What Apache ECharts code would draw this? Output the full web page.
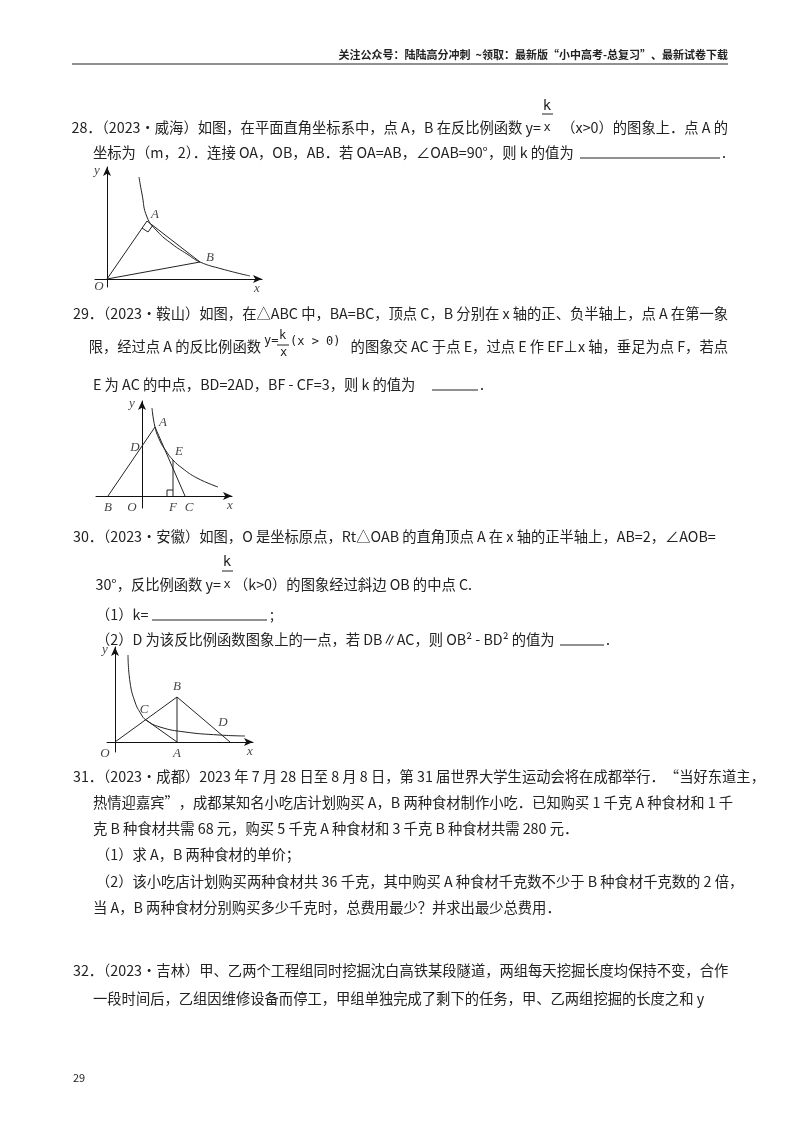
<!DOCTYPE html>
<html><head><meta charset="utf-8">
<script src="https://cdn.jsdelivr.net/npm/echarts@6/dist/echarts.min.js"></script>
<style>html,body{margin:0;background:#fff}#c{width:800px;height:1132px}</style>
</head><body><div id="c"></div>
<script>
// Figure 1 (q28) points, units relative to origin
const f1Curve=[[32,102],[35,85],[40,62],[50,48],[65,35],[80,25],[93,17],[115,10],[143,3]];
const f1Tri=[[0,0],[40,58],[93,17],[0,0]];
const f1Labels=[['A',[40,58],[8,-6]],['B',[93,17],[10,-4]],['O',[0,0],[-8,8]],['x',[150,0],[0,10]],['y',[0,108],[-10,0]]];
// Figure 2 (q29)
const f2Curve=[[10,88],[13,69],[18,55],[24,45],[31,36],[40,28],[55,18],[76,9]];
const f2Tri=[[-34,0],[13,69],[43,0]];
const f2EF=[[31,36],[31,0]];
const f2Labels=[['A',[13,69],[8,-4]],['D',[0,44],[-7,-4]],['E',[31,36],[6,-8]],['F',[31,0],[0,12]],['C',[43,0],[4,12]],['B',[-34,0],[0,12]],['O',[0,0],[-10,12]],['x',[86,0],[2,10]],['y',[0,92],[-10,0]]];
// Figure 3 (q30)
const f3Curve=[[13,87],[15,60],[20,40],[26,28],[31,22],[45,15],[70,10],[104,7],[130,6]];
const f3OBA=[[0,0],[62,45],[62,0]];
const f3AC=[[62,0],[31,22]];
const f3BD=[[62,45],[115,0]];
const f3Labels=[['B',[62,45],[0,-10]],['A',[62,0],[0,12]],['C',[31,22],[-2,-10]],['D',[104,9],[4,-10]],['O',[0,0],[-10,12]],['x',[133,0],[2,10]],['y',[0,92],[-10,0]]];

const ch=echarts.init(document.getElementById('c'));
const figs=[
 {o:[107,279],xr:[-12,155],yr:[-8,112]},
 {o:[142,496],xr:[-46,90],yr:[-12,95]},
 {o:[115,742],xr:[-8,138],yr:[-10,95]}
];
const grid=[],xAxis=[],yAxis=[];
figs.forEach((f,i)=>{
 grid.push({left:f.o[0]+f.xr[0],top:f.o[1]-f.yr[1],width:f.xr[1]-f.xr[0],height:f.yr[1]-f.yr[0]});
 const ax={type:'value',gridIndex:i,axisLine:{onZero:true,symbol:['none','arrow'],symbolSize:[6,9],lineStyle:{color:'#111',width:1}},axisTick:{show:false},axisLabel:{show:false},splitLine:{show:false}};
 xAxis.push(Object.assign({},ax,{min:f.xr[0],max:f.xr[1]}));
 yAxis.push(Object.assign({},ax,{min:f.yr[0],max:f.yr[1]}));
});
const L=(i,data,smooth)=>({type:'line',xAxisIndex:i,yAxisIndex:i,data,smooth:!!smooth,symbol:'none',lineStyle:{color:'#222',width:1},silent:true,animation:false});
function labs(i,arr){return {type:'scatter',xAxisIndex:i,yAxisIndex:i,symbolSize:0,animation:false,data:arr.map(a=>({value:a[1],label:{show:true,formatter:a[0],offset:a[2],fontFamily:'Liberation Serif',fontStyle:'italic',fontSize:13,color:'#111'}}))};}
const series=[
 L(0,f1Curve,true),L(0,f1Tri),labs(0,f1Labels),
 L(1,f2Curve,true),L(1,f2Tri),L(1,f2EF),L(1,[[25,0],[25,6],[31,6]]),labs(1,f2Labels),
 L(2,f3Curve,true),L(2,f3OBA),L(2,f3AC),L(2,f3BD),labs(2,f3Labels),
 L(0,[[35,51],[41,47],[46,54]])
];
const F='"Noto Sans CJK SC","Liberation Serif",serif';
const g=[];
function T(x,y,t,o){g.push({type:'text',x,y,style:Object.assign({text:t,fill:'#222',font:'14.3px '+F,textVerticalAlign:'middle'},o||{})});}
function R(x,y,t,o){T(x,y,t,Object.assign({textAlign:'right'},o||{}));}
function U(x1,x2,y){g.push({type:'line',shape:{x1,y1:y,x2,y2:y},style:{stroke:'#222',lineWidth:1}});}
R(728,55,'关注公众号：陆陆高分冲刺  ~领取：最新版“小中高考-总复习”、最新试卷下载',{font:'bold 11px '+F});
U(72,728,64);
// Q28
R(541,128,'28．（2023•威海）如图，在平面直角坐标系中，点 A，B 在反比例函数 y=');
T(547,106,'k',{font:'14px "DejaVu Sans Mono"',textAlign:'center'});U(542,553,114);
T(547,128,'x',{font:'12px "DejaVu Sans Mono"',textAlign:'center'});
R(728,128,'（x>0）的图象上．点 A 的');
T(93,153,'坐标为（m，2）．连接 OA，OB，AB．若 OA=AB，∠OAB=90°，则 k 的值为');
U(580,720,158);T(722,153,'.');
// Q29
T(73,314,'29．（2023•鞍山）如图，在△ABC 中，BA=BC，顶点 C，B 分别在 x 轴的正、负半轴上，点 A 在第一象');
R(261,347,'限，经过点 A 的反比例函数');
T(264,341,'y=',{font:'12px "DejaVu Sans Mono"'});
T(279,336,'k',{font:'12px "DejaVu Sans Mono"'});U(277,289,345);
T(280,353,'x',{font:'12px "DejaVu Sans Mono"'});
T(290,342,'(x > 0)',{font:'12px "DejaVu Sans Mono"'});
R(728,347,'的图象交 AC 于点 E，过点 E 作 EF⊥x 轴，垂足为点 F，若点');
T(93,385,'E 为 AC 的中点，BD=2AD，BF - CF=3，则 k 的值为');
U(432,478,390);T(480,385,'.');
// Q30
T(73,537,'30．（2023•安徽）如图，O 是坐标原点，Rt△OAB 的直角顶点 A 在 x 轴的正半轴上，AB=2，∠AOB=');
T(227,562,'k',{font:'14px "DejaVu Sans Mono"',textAlign:'center'});U(222,233,571);
R(221,585,'30°，反比例函数 y=');
T(227,585,'x',{font:'12px "DejaVu Sans Mono"',textAlign:'center'});
T(234,585,'（k>0）的图象经过斜边 OB 的中点 C.');
T(96,615,'（1）k=');U(152,267,620);T(270,615,';');
T(96,640,'（2）D 为该反比例函数图象上的一点，若 DB∥AC，则 OB² - BD² 的值为');
U(560,604,645);T(606,640,'.');
// Q31
T(73,777,'31．（2023•成都）2023 年 7 月 28 日至 8 月 8 日，第 31 届世界大学生运动会将在成都举行．“当好东道主，');
T(93,803,'热情迎嘉宾”，成都某知名小吃店计划购买 A，B 两种食材制作小吃．已知购买 1 千克 A 种食材和 1 千');
T(93,829,'克 B 种食材共需 68 元，购买 5 千克 A 种食材和 3 千克 B 种食材共需 280 元．');
T(96,855,'（1）求 A，B 两种食材的单价；');
T(96,882,'（2）该小吃店计划购买两种食材共 36 千克，其中购买 A 种食材千克数不少于 B 种食材千克数的 2 倍，');
T(93,908,'当 A，B 两种食材分别购买多少千克时，总费用最少？并求出最少总费用．');
// Q32
T(73,971,'32．（2023•吉林）甲、乙两个工程组同时挖掘沈白高铁某段隧道，两组每天挖掘长度均保持不变，合作');
T(93,999,'一段时间后，乙组因维修设备而停工，甲组单独完成了剩下的任务，甲、乙两组挖掘的长度之和 y');
T(73,1078,'29',{font:'11px '+F});
ch.setOption({animation:false,grid,xAxis,yAxis,series,graphic:g});
</script></body></html>
